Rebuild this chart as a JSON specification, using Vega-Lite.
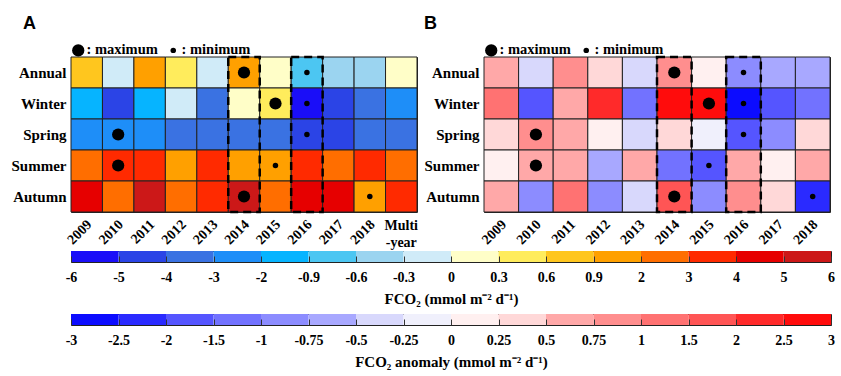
{
  "$schema": "https://vega.github.io/schema/vega-lite/v6.json",
  "background": "white",
  "padding": {"left": 10, "top": 14, "right": 8, "bottom": 4},
  "datasets": {
    "fco2": [
      {"season": "Annual", "year": "2009", "v": 0.75},
      {"season": "Annual", "year": "2010", "v": -0.15},
      {"season": "Annual", "year": "2011", "v": 1.2},
      {"season": "Annual", "year": "2012", "v": 0.45},
      {"season": "Annual", "year": "2013", "v": -0.15},
      {"season": "Annual", "year": "2014", "v": 1.5, "m": "maximum"},
      {"season": "Annual", "year": "2015", "v": 0.15},
      {"season": "Annual", "year": "2016", "v": -0.75, "m": "minimum"},
      {"season": "Annual", "year": "2017", "v": -0.45},
      {"season": "Annual", "year": "2018", "v": -0.45},
      {"season": "Annual", "year": "Multi-year", "v": 0.15},
      {"season": "Winter", "year": "2009", "v": -1.5},
      {"season": "Winter", "year": "2010", "v": -4.5},
      {"season": "Winter", "year": "2011", "v": -1.5},
      {"season": "Winter", "year": "2012", "v": -0.15},
      {"season": "Winter", "year": "2013", "v": -3.5},
      {"season": "Winter", "year": "2014", "v": 0.15},
      {"season": "Winter", "year": "2015", "v": 0.45, "m": "maximum"},
      {"season": "Winter", "year": "2016", "v": -5.5, "m": "minimum"},
      {"season": "Winter", "year": "2017", "v": -4.5},
      {"season": "Winter", "year": "2018", "v": -3.5},
      {"season": "Winter", "year": "Multi-year", "v": -2.5},
      {"season": "Spring", "year": "2009", "v": -2.5},
      {"season": "Spring", "year": "2010", "v": -2.2, "m": "maximum"},
      {"season": "Spring", "year": "2011", "v": -2.5},
      {"season": "Spring", "year": "2012", "v": -3.5},
      {"season": "Spring", "year": "2013", "v": -3.5},
      {"season": "Spring", "year": "2014", "v": -3.5},
      {"season": "Spring", "year": "2015", "v": -3.5},
      {"season": "Spring", "year": "2016", "v": -4.6, "m": "minimum"},
      {"season": "Spring", "year": "2017", "v": -4.3},
      {"season": "Spring", "year": "2018", "v": -3.5},
      {"season": "Spring", "year": "Multi-year", "v": -3.5},
      {"season": "Summer", "year": "2009", "v": 2.5},
      {"season": "Summer", "year": "2010", "v": 3.6, "m": "maximum"},
      {"season": "Summer", "year": "2011", "v": 3.3},
      {"season": "Summer", "year": "2012", "v": 1.5},
      {"season": "Summer", "year": "2013", "v": 3.3},
      {"season": "Summer", "year": "2014", "v": 1.5},
      {"season": "Summer", "year": "2015", "v": 1.2, "m": "minimum"},
      {"season": "Summer", "year": "2016", "v": 3.3},
      {"season": "Summer", "year": "2017", "v": 2.5},
      {"season": "Summer", "year": "2018", "v": 3.3},
      {"season": "Summer", "year": "Multi-year", "v": 2.5},
      {"season": "Autumn", "year": "2009", "v": 4.5},
      {"season": "Autumn", "year": "2010", "v": 2.5},
      {"season": "Autumn", "year": "2011", "v": 5.5},
      {"season": "Autumn", "year": "2012", "v": 2.5},
      {"season": "Autumn", "year": "2013", "v": 3.5},
      {"season": "Autumn", "year": "2014", "v": 5.7, "m": "maximum"},
      {"season": "Autumn", "year": "2015", "v": 2.5},
      {"season": "Autumn", "year": "2016", "v": 4.5},
      {"season": "Autumn", "year": "2017", "v": 4.5},
      {"season": "Autumn", "year": "2018", "v": 1.5, "m": "minimum"},
      {"season": "Autumn", "year": "Multi-year", "v": 3.5}
    ],
    "anom": [
      {"season": "Annual", "year": "2009", "v": 0.6},
      {"season": "Annual", "year": "2010", "v": -0.35},
      {"season": "Annual", "year": "2011", "v": 0.85},
      {"season": "Annual", "year": "2012", "v": 0.35},
      {"season": "Annual", "year": "2013", "v": -0.35},
      {"season": "Annual", "year": "2014", "v": 0.9, "m": "maximum"},
      {"season": "Annual", "year": "2015", "v": 0.1},
      {"season": "Annual", "year": "2016", "v": -0.9, "m": "minimum"},
      {"season": "Annual", "year": "2017", "v": -0.6},
      {"season": "Annual", "year": "2018", "v": -0.6},
      {"season": "Winter", "year": "2009", "v": 1.2},
      {"season": "Winter", "year": "2010", "v": -1.8},
      {"season": "Winter", "year": "2011", "v": 0.6},
      {"season": "Winter", "year": "2012", "v": 2.2},
      {"season": "Winter", "year": "2013", "v": -1.2},
      {"season": "Winter", "year": "2014", "v": 2.7},
      {"season": "Winter", "year": "2015", "v": 2.8, "m": "maximum"},
      {"season": "Winter", "year": "2016", "v": -2.8, "m": "minimum"},
      {"season": "Winter", "year": "2017", "v": -1.8},
      {"season": "Winter", "year": "2018", "v": -1.2},
      {"season": "Spring", "year": "2009", "v": 0.35},
      {"season": "Spring", "year": "2010", "v": 0.85, "m": "maximum"},
      {"season": "Spring", "year": "2011", "v": 0.6},
      {"season": "Spring", "year": "2012", "v": 0.1},
      {"season": "Spring", "year": "2013", "v": -0.35},
      {"season": "Spring", "year": "2014", "v": 0.35},
      {"season": "Spring", "year": "2015", "v": -0.1},
      {"season": "Spring", "year": "2016", "v": -1.8, "m": "minimum"},
      {"season": "Spring", "year": "2017", "v": -0.9},
      {"season": "Spring", "year": "2018", "v": 0.35},
      {"season": "Summer", "year": "2009", "v": 0.1},
      {"season": "Summer", "year": "2010", "v": 0.65, "m": "maximum"},
      {"season": "Summer", "year": "2011", "v": 0.6},
      {"season": "Summer", "year": "2012", "v": -0.6},
      {"season": "Summer", "year": "2013", "v": 0.6},
      {"season": "Summer", "year": "2014", "v": -1.2},
      {"season": "Summer", "year": "2015", "v": -1.6, "m": "minimum"},
      {"season": "Summer", "year": "2016", "v": 0.6},
      {"season": "Summer", "year": "2017", "v": 0.1},
      {"season": "Summer", "year": "2018", "v": 0.6},
      {"season": "Autumn", "year": "2009", "v": 0.6},
      {"season": "Autumn", "year": "2010", "v": -0.9},
      {"season": "Autumn", "year": "2011", "v": 1.2},
      {"season": "Autumn", "year": "2012", "v": -0.9},
      {"season": "Autumn", "year": "2013", "v": -0.35},
      {"season": "Autumn", "year": "2014", "v": 1.7, "m": "maximum"},
      {"season": "Autumn", "year": "2015", "v": -0.9},
      {"season": "Autumn", "year": "2016", "v": 0.85},
      {"season": "Autumn", "year": "2017", "v": 0.35},
      {"season": "Autumn", "year": "2018", "v": -2.2, "m": "minimum"}
    ],
    "boxes": [{"year": "2014"}, {"year": "2016"}],
    "bar": [
      {"i": 0, "j": 1}, {"i": 1, "j": 2}, {"i": 2, "j": 3}, {"i": 3, "j": 4},
      {"i": 4, "j": 5}, {"i": 5, "j": 6}, {"i": 6, "j": 7}, {"i": 7, "j": 8},
      {"i": 8, "j": 9}, {"i": 9, "j": 10}, {"i": 10, "j": 11}, {"i": 11, "j": 12},
      {"i": 12, "j": 13}, {"i": 13, "j": 14}, {"i": 14, "j": 15}, {"i": 15, "j": 16}
    ]
  },
  "config": {
    "view": {"stroke": "#222", "strokeWidth": 1},
    "axis": {"labelFont": "Liberation Serif", "labelFontWeight": "bold", "labelColor": "#000", "titleFont": "Liberation Serif", "titleFontWeight": "bold", "titleColor": "#000"},
    "legend": {"labelFont": "Liberation Serif", "labelFontWeight": "bold", "labelFontSize": 14.5, "labelColor": "#000"},
    "title": {"font": "Liberation Sans", "fontWeight": "bold", "fontSize": 18, "color": "#000"}
  },
  "vconcat": [
    {
      "hconcat": [
        {
          "width": 346, "height": 155,
          "title": {"text": "A", "anchor": "start", "frame": "group", "dx": -48, "offset": 10},
          "data": {"name": "fco2"},
          "layer": [
            {
              "mark": {"type": "rect", "stroke": "#222", "strokeWidth": 1},
              "encoding": {
                "x": {"field": "year", "type": "ordinal",
                  "scale": {"domain": ["2009","2010","2011","2012","2013","2014","2015","2016","2017","2018","Multi-year"], "paddingInner": 0, "paddingOuter": 0},
                  "axis": {"orient": "bottom", "title": null, "domain": false, "ticks": false, "labelAngle": -45, "labelAlign": "right", "labelBaseline": "middle", "labelPadding": 10, "labelOffset": 3, "labelFontSize": 14, "labelOverlap": false, "labelExpr": "datum.value == 'Multi-year' ? '' : datum.value"}},
                "y": {"field": "season", "type": "nominal", "sort": ["Annual","Winter","Spring","Summer","Autumn"],
                  "scale": {"paddingInner": 0, "paddingOuter": 0},
                  "axis": {"title": null, "domain": false, "ticks": false, "labelFontSize": 15, "labelPadding": 5}},
                "color": {"field": "v", "type": "quantitative",
                  "scale": {"type": "threshold", "domain": [-5,-4,-3,-2,-0.9,-0.6,-0.3,0,0.3,0.6,0.9,2,3,4,5],
                    "range": ["#1A0EF8","#2B44E6","#3A72E2","#1E8EF8","#06B4FF","#4CC6F2","#9BD4F0","#D0EBF8","#FFFEC8","#FFEC5C","#FFC61E","#FFA000","#FF6E00","#FF2A00","#E60000","#CC1818"]},
                  "legend": null}
              }
            },
            {
              "transform": [{"filter": {"field": "m", "oneOf": ["maximum", "minimum"]}}],
              "mark": {"type": "circle", "color": "#000", "opacity": 1},
              "encoding": {
                "x": {"field": "year", "type": "ordinal", "axis": null},
                "y": {"field": "season", "type": "nominal", "sort": ["Annual","Winter","Spring","Summer","Autumn"]},
                "size": {"field": "m", "type": "ordinal", "scale": {"domain": ["maximum", "minimum"], "range": [150, 30]},
                  "legend": {"orient": "top", "direction": "horizontal", "title": null, "labelExpr": "': ' + datum.label", "offset": 0, "columnPadding": 8, "labelOffset": 1, "symbolStrokeWidth": 0, "symbolFillColor": "#000", "padding": 0}}
              }
            },
            {
              "data": {"name": "boxes"},
              "mark": {"type": "rect", "fill": null, "stroke": "#000", "strokeWidth": 2.5, "strokeDash": [8, 5]},
              "encoding": {
                "x": {"field": "year", "type": "ordinal",
                  "scale": {"domain": ["2009","2010","2011","2012","2013","2014","2015","2016","2017","2018","Multi-year"]},
                  "axis": {"orient": "bottom", "title": null, "domain": false, "ticks": false, "labelAngle": 0, "labelAlign": "center", "labelBaseline": "top", "labelPadding": 6, "labelFontSize": 14, "labelLineHeight": 17, "labelExpr": "datum.value == 'Multi-year' ? ['Multi', '-year'] : ''"}}
              }
            }
          ],
          "resolve": {"axis": {"x": "independent"}}
        },
        {
          "width": 346, "height": 155,
          "title": {"text": "B", "anchor": "start", "frame": "group", "dx": -60, "offset": 10},
          "data": {"name": "anom"},
          "layer": [
            {
              "mark": {"type": "rect", "stroke": "#222", "strokeWidth": 1},
              "encoding": {
                "x": {"field": "year", "type": "ordinal",
                  "scale": {"domain": ["2009","2010","2011","2012","2013","2014","2015","2016","2017","2018"], "paddingInner": 0, "paddingOuter": 0},
                  "axis": {"title": null, "domain": false, "ticks": false, "labelAngle": -45, "labelAlign": "right", "labelBaseline": "middle", "labelPadding": 10, "labelOffset": 3, "labelFontSize": 14, "labelOverlap": false}},
                "y": {"field": "season", "type": "nominal", "sort": ["Annual","Winter","Spring","Summer","Autumn"],
                  "scale": {"paddingInner": 0, "paddingOuter": 0},
                  "axis": {"title": null, "domain": false, "ticks": false, "labelFontSize": 15, "labelPadding": 5}},
                "color": {"field": "v", "type": "quantitative",
                  "scale": {"type": "threshold", "domain": [-2.5,-2,-1.5,-1,-0.75,-0.5,-0.25,0,0.25,0.5,0.75,1,1.5,2,2.5],
                    "range": ["#0C0CFF","#2A2AFF","#5555FF","#7272FF","#8C8CFF","#A8A8FF","#D8D8FC","#F0F0FC","#FFF0F0","#FFD8D8","#FFA8A8","#FF8E8E","#FF7272","#FF5555","#FF2A2A","#FF0C0C"]},
                  "legend": null}
              }
            },
            {
              "transform": [{"filter": {"field": "m", "oneOf": ["maximum", "minimum"]}}],
              "mark": {"type": "circle", "color": "#000", "opacity": 1},
              "encoding": {
                "x": {"field": "year", "type": "ordinal"},
                "y": {"field": "season", "type": "nominal", "sort": ["Annual","Winter","Spring","Summer","Autumn"]},
                "size": {"field": "m", "type": "ordinal", "scale": {"domain": ["maximum", "minimum"], "range": [150, 30]},
                  "legend": {"orient": "top", "direction": "horizontal", "title": null, "labelExpr": "': ' + datum.label", "offset": 0, "columnPadding": 8, "labelOffset": 1, "symbolStrokeWidth": 0, "symbolFillColor": "#000", "padding": 0}}
              }
            },
            {
              "data": {"name": "boxes"},
              "mark": {"type": "rect", "fill": null, "stroke": "#000", "strokeWidth": 2.5, "strokeDash": [8, 5]},
              "encoding": {
                "x": {"field": "year", "type": "ordinal",
                  "scale": {"domain": ["2009","2010","2011","2012","2013","2014","2015","2016","2017","2018"]}}
              }
            }
          ]
        }
      ],
      "spacing": 67,
      "bounds": "flush",
      "resolve": {"scale": {"color": "independent", "size": "independent", "x": "independent", "y": "independent"}, "legend": {"size": "independent"}}
    },
    {
      "vconcat": [
        {
          "width": 760, "height": 11,
          "data": {"name": "bar"},
          "mark": {"type": "rect"},
          "encoding": {
            "x": {"field": "i", "type": "quantitative", "scale": {"domain": [0, 16], "nice": false, "zero": false},
              "axis": {"title": "FCO₂ (mmol m⁻² d⁻¹)", "titleFontSize": 15, "titlePadding": 7, "domain": false, "ticks": true, "tickSize": -6, "tickColor": "#333", "tickWidth": 1, "zindex": 1, "grid": false, "values": [0,1,2,3,4,5,6,7,8,9,10,11,12,13,14,15,16], "labelFontSize": 14, "labelPadding": 14, "labelFlush": false, "labelOverlap": false,
                "labelExpr": "['-6','-5','-4','-3','-2','-0.9','-0.6','-0.3','0','0.3','0.6','0.9','2','3','4','5','6'][datum.value]"}},
            "x2": {"field": "j"},
            "color": {"field": "i", "type": "ordinal", "scale": {"domain": [0,1,2,3,4,5,6,7,8,9,10,11,12,13,14,15],
              "range": ["#1A0EF8","#2B44E6","#3A72E2","#1E8EF8","#06B4FF","#4CC6F2","#9BD4F0","#D0EBF8","#FFFEC8","#FFEC5C","#FFC61E","#FFA000","#FF6E00","#FF2A00","#E60000","#CC1818"]}, "legend": null}
          }
        },
        {
          "width": 760, "height": 11,
          "data": {"name": "bar"},
          "mark": {"type": "rect"},
          "encoding": {
            "x": {"field": "i", "type": "quantitative", "scale": {"domain": [0, 16], "nice": false, "zero": false},
              "axis": {"title": "FCO₂ anomaly (mmol m⁻² d⁻¹)", "titleFontSize": 15, "titlePadding": 7, "domain": false, "ticks": true, "tickSize": -6, "tickColor": "#333", "tickWidth": 1, "zindex": 1, "grid": false, "values": [0,1,2,3,4,5,6,7,8,9,10,11,12,13,14,15,16], "labelFontSize": 14, "labelPadding": 14, "labelFlush": false, "labelOverlap": false,
                "labelExpr": "['-3','-2.5','-2','-1.5','-1','-0.75','-0.5','-0.25','0','0.25','0.5','0.75','1','1.5','2','2.5','3'][datum.value]"}},
            "x2": {"field": "j"},
            "color": {"field": "i", "type": "ordinal", "scale": {"domain": [0,1,2,3,4,5,6,7,8,9,10,11,12,13,14,15],
              "range": ["#0C0CFF","#2A2AFF","#5555FF","#7272FF","#8C8CFF","#A8A8FF","#D8D8FC","#F0F0FC","#FFF0F0","#FFD8D8","#FFA8A8","#FF8E8E","#FF7272","#FF5555","#FF2A2A","#FF0C0C"]}, "legend": null}
          }
        }
      ],
      "spacing": 52,
      "bounds": "flush",
      "resolve": {"scale": {"color": "independent", "x": "independent"}}
    }
  ],
  "spacing": 194,
  "bounds": "flush",
  "resolve": {"scale": {"color": "independent", "x": "independent", "size": "independent"}}
}
